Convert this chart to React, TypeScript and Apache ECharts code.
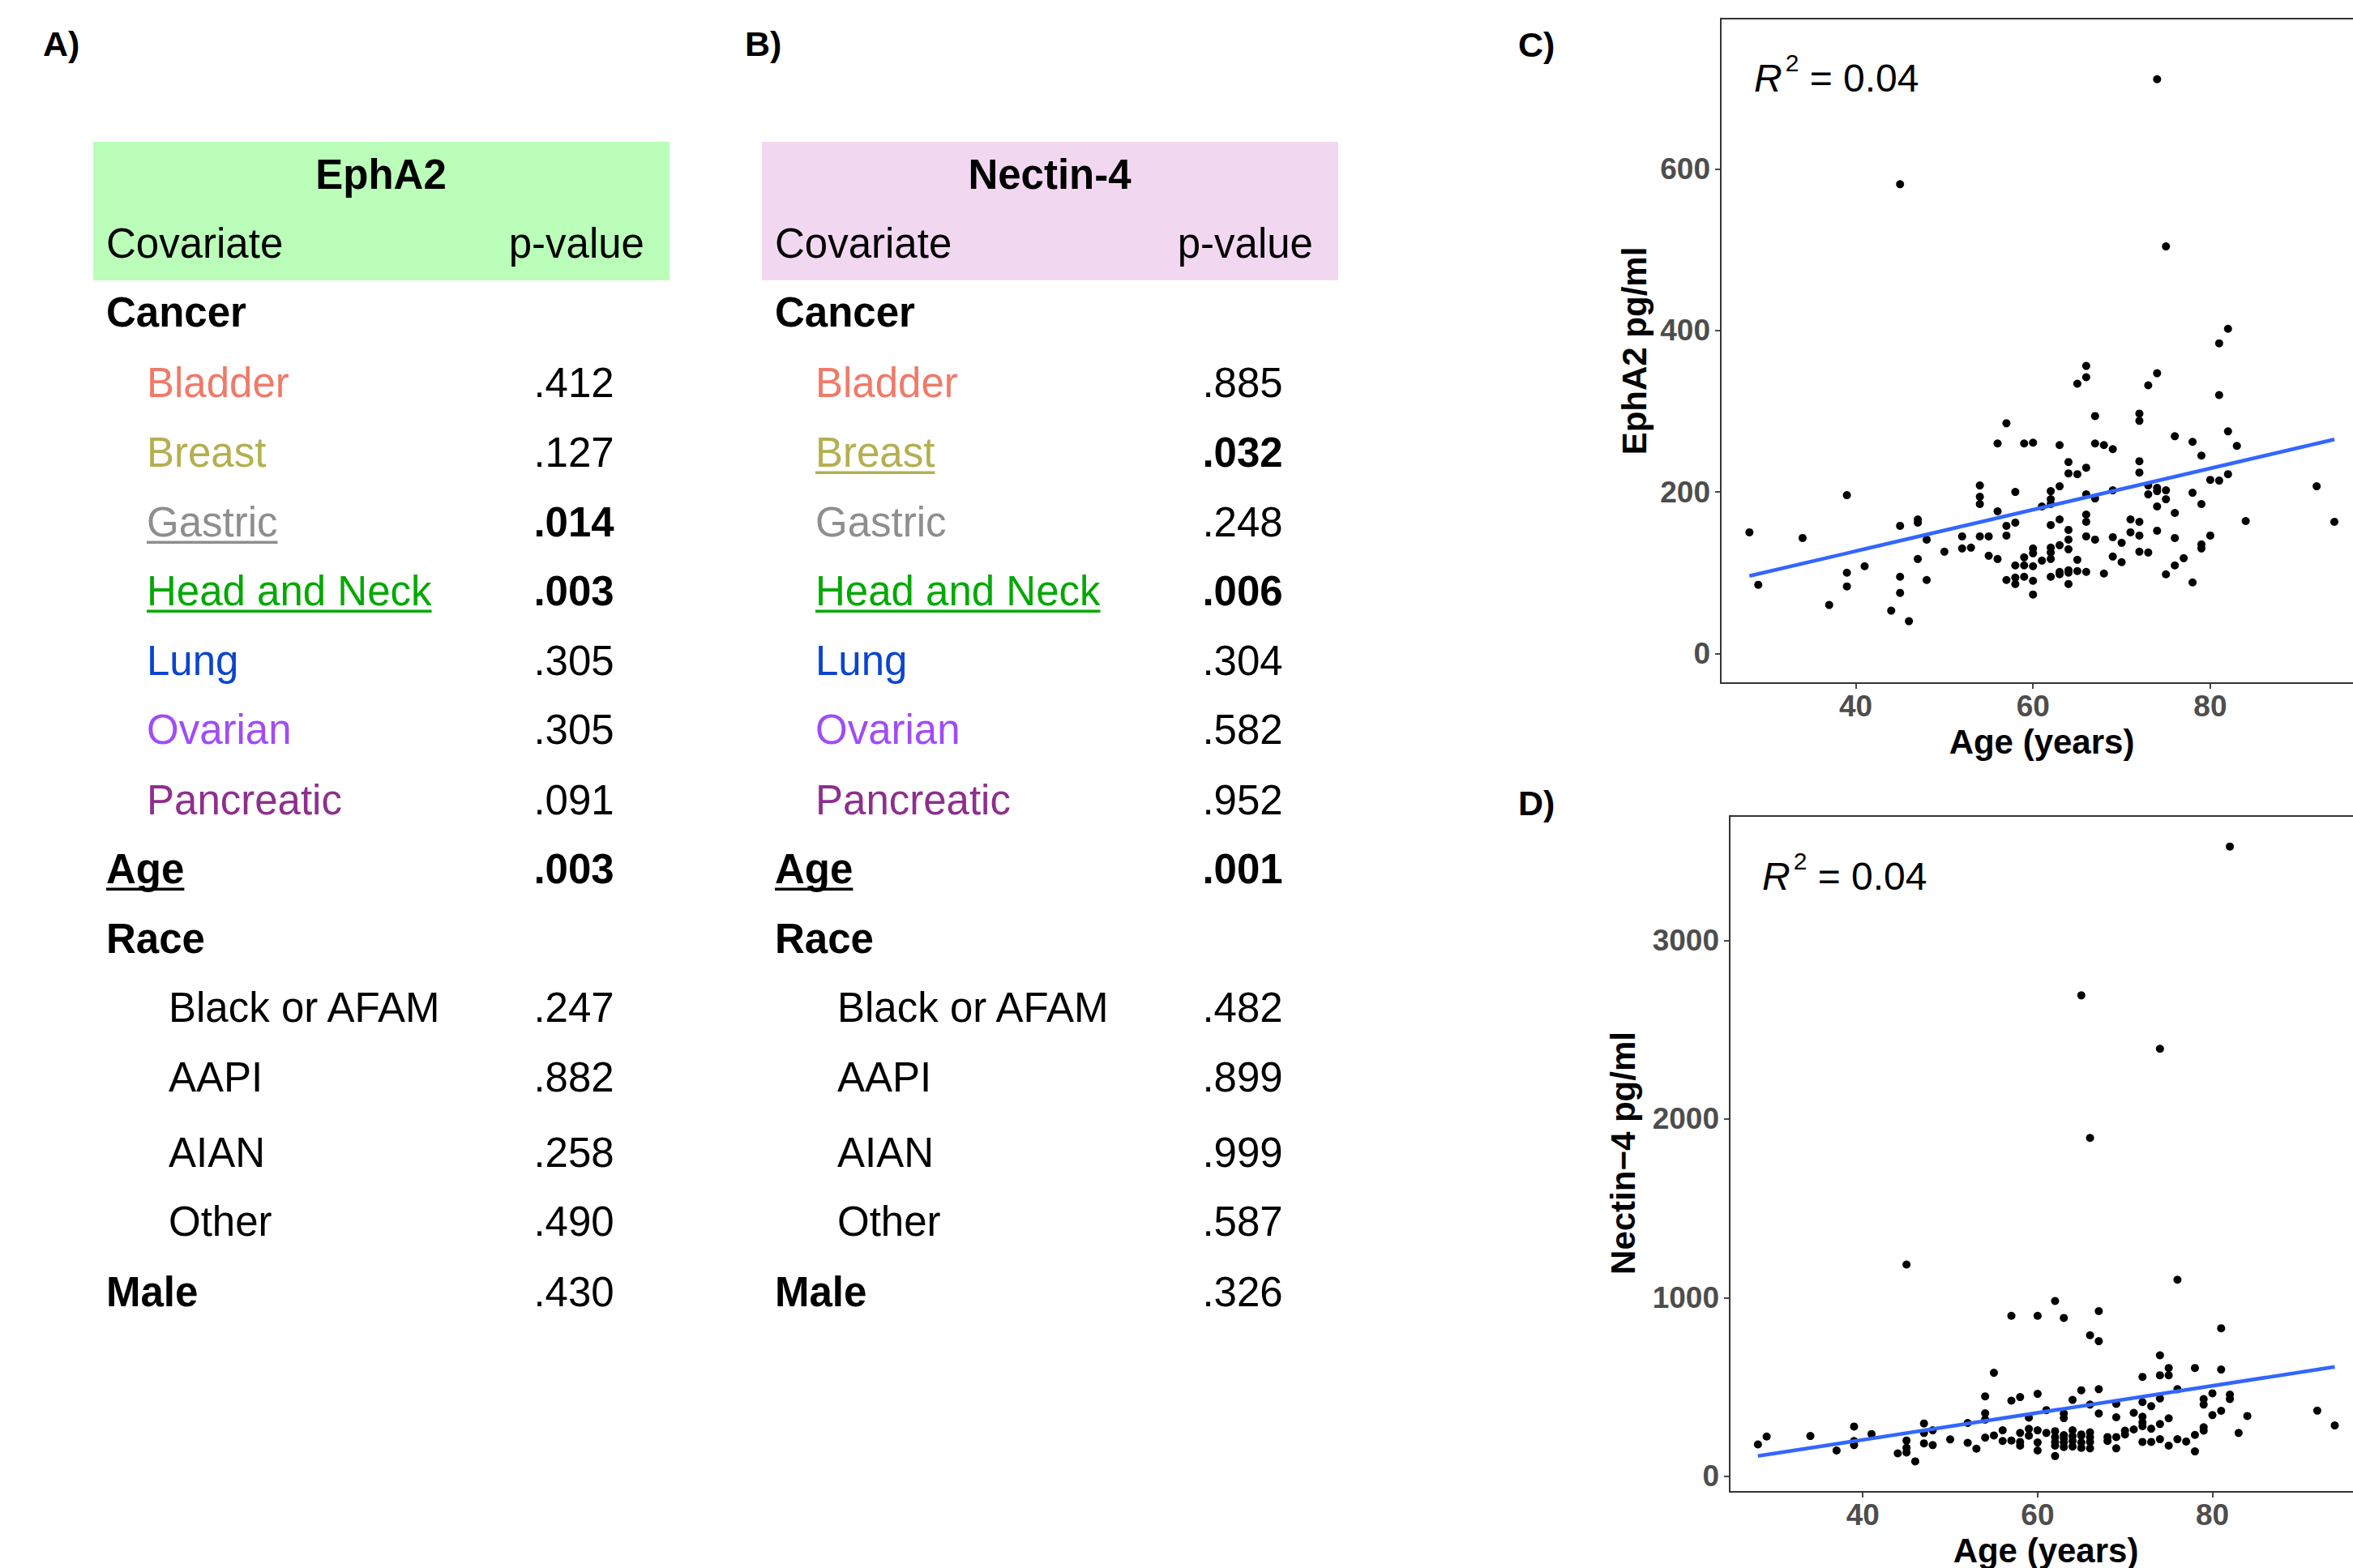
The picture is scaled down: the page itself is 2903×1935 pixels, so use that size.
import React, { useEffect, useRef } from "react";
import * as echarts from "echarts";

// ---------------- data ----------------
const COVARIATES = [
  "Cancer", "Bladder", "Breast", "Gastric", "Head and Neck", "Lung", "Ovarian", "Pancreatic",
  "Age", "Race", "Black or AFAM", "AAPI", "AIAN", "Other", "Male",
];
// 0 = group heading, 1 = cancer type, 2 = race category
const COVARIATE_LEVEL = [0, 1, 1, 1, 1, 1, 1, 1, 0, 0, 2, 2, 2, 2, 0];
const EPHA2_P = ["", ".412", ".127", ".014", ".003", ".305", ".305", ".091", ".003", "", ".247", ".882", ".258", ".490", ".430"];
const NECTIN4_P = ["", ".885", ".032", ".248", ".006", ".304", ".582", ".952", ".001", "", ".482", ".899", ".999", ".587", ".326"];
const SIGNIFICANCE = 0.05;

const C_AGE = [
  74, 45, 75, 82, 81, 66, 66, 65, 74, 73, 81,
  67, 72, 72, 57, 82, 56, 59, 60, 63, 67, 68, 69, 76, 78, 83, 79, 64, 72, 66, 64, 65, 72, 82, 80, 81,
  54, 63, 73, 74, 74, 92, 58, 62, 69, 75, 39, 66, 78, 73, 54, 67, 75, 62, 54, 62, 61, 74, 79, 56,
  76, 66, 63, 66, 71, 72, 84, 94, 47, 47, 45, 57, 58, 62, 64, 74, 71, 28, 34, 52, 54, 55, 57, 66,
  69, 72, 80, 48, 67, 76, 64, 70, 63, 79, 79, 52, 53, 62, 60, 64, 62, 60, 50, 72, 73, 55, 69, 56,
  47, 59, 62, 61, 65, 77, 70, 41, 58, 59, 60, 76, 39, 63, 63, 64, 64, 65, 66, 68, 75, 45, 48, 57,
  58, 58, 59, 60, 62, 64, 78, 29, 39, 45, 60, 37, 44, 46,
];
const C_EPHA2 = [
  711, 581, 504, 402, 384, 356, 342, 334, 347, 332, 320,
  294, 297, 288, 285, 275, 260, 260, 261, 258, 260, 258, 253, 269, 262, 257, 245, 237, 238, 230, 223, 222, 224, 222, 215, 214,
  208, 207, 208, 205, 201, 207, 200, 201, 202, 202, 196, 197, 199, 197, 194, 192, 191, 191, 185, 185, 182, 182, 185, 176,
  174, 172, 166, 163, 166, 163, 164, 163, 166, 162, 158, 158, 162, 159, 153, 152, 150, 150, 143, 145, 145, 145, 146, 145,
  144, 146, 146, 141, 141, 143, 141, 137, 134, 135, 130, 130, 131, 131, 130, 129, 125, 124, 126, 126, 125, 121, 120, 117,
  117, 119, 117, 115, 116, 118, 113, 108, 109, 109, 108, 109, 100, 101, 98, 103, 100, 102, 101, 99, 98, 95, 91, 91,
  94, 86, 95, 90, 95, 86, 88, 85, 83, 75, 73, 60, 53, 40,
];

const D_AGE = [
  82, 65, 74, 66, 45, 76, 62, 57, 60, 63, 67, 81, 66, 67, 74, 78, 75, 81, 55, 72, 74, 75, 76, 65,
  67, 54, 58, 60, 57, 64, 80, 82, 82, 79, 79, 74, 72, 66, 69, 73, 61, 63, 63, 67, 71, 54, 54, 72,
  80, 81, 84, 92, 59, 69, 75, 52, 47, 72, 74, 94, 72, 39, 73, 79, 79, 71, 70, 70, 56, 59, 59, 60,
  48, 47, 41, 29, 34, 55, 58, 61, 62, 63, 64, 65, 66, 50, 54, 56, 57, 62, 63, 64, 65, 66, 68, 69,
  74, 76, 78, 83, 39, 45, 47, 48, 52, 60, 62, 63, 64, 65, 66, 68, 72, 73, 77, 28, 39, 58, 62, 63,
  64, 65, 66, 75, 58, 37, 53, 60, 69, 78, 44, 45, 45, 62, 46,
];
const D_NECTIN4 = [
  3525, 2692, 2393, 1894, 1185, 1100, 981, 898, 898, 886, 924, 828, 789, 756, 677, 606, 606, 597, 579, 556, 565, 565, 487, 481,
  487, 447, 443, 461, 423, 427, 464, 457, 432, 432, 401, 435, 415, 401, 405, 392, 370, 351, 325, 351, 355, 352, 317, 333,
  342, 366, 337, 367, 328, 330, 324, 298, 295, 302, 292, 284, 280, 278, 266, 274, 255, 262, 255, 234, 257, 265, 227, 257,
  257, 242, 236, 222, 225, 228, 242, 242, 252, 230, 257, 234, 246, 206, 216, 197, 200, 219, 212, 224, 227, 219, 219, 219,
  207, 207, 231, 242, 197, 200, 184, 174, 187, 189, 192, 189, 197, 189, 192, 197, 192, 192, 194, 178, 174, 171, 171, 163,
  166, 159, 156, 171, 192, 144, 154, 144, 156, 139, 128, 133, 159, 113, 83,
];

// linear fits: [intercept, slope]
const C_FIT = [24.3, 2.561];
const D_FIT = [-98.7, 7.561];
const C_R2 = "0.04";
const D_R2 = "0.04";

const AGE_TICKS = [40, 60, 80];
const C_Y_TICKS = [0, 200, 400, 600];
const D_Y_TICKS = [0, 1000, 2000, 3000];

// ---------------- styles / layout ----------------
const FONT = "'Liberation Sans', Arial, Helvetica, sans-serif";
const CANCER_COLORS: Record<string, string> = {
  Bladder: "#EF7A69",
  Breast: "#B4AF50",
  Gastric: "#8E8E8E",
  "Head and Neck": "#05A805",
  Lung: "#0B45CF",
  Ovarian: "#A04CF6",
  Pancreatic: "#8E2F8E",
};
const ROW_BASELINES = [403, 490, 576, 662, 747, 833, 918, 1005, 1090, 1176, 1261, 1347, 1440, 1525, 1612];
const TABLE_FS = 51;

let measureCtx: CanvasRenderingContext2D | null = null;
function textWidth(t: string, font: string) {
  if (!measureCtx) measureCtx = document.createElement("canvas").getContext("2d");
  if (!measureCtx) return t.length * 25;
  measureCtx.font = font;
  return measureCtx.measureText(t).width;
}

function txt(text: string, x: number, baseline: number, size: number, weight: string, fill: string, align: string, extra: any = {}) {
  return {
    type: "text",
    silent: true,
    x,
    y: baseline - 0.35 * size,
    style: {
      text,
      x: 0,
      y: 0,
      font: `${extra.italic ? "italic " : ""}${weight} ${size}px ${FONT}`,
      fill,
      textAlign: align,
      textVerticalAlign: "middle",
      align,
      verticalAlign: "middle",
    },
  };
}

function tableGraphics(x0: number, header: string, pvals: string[], bg: string) {
  const els: any[] = [];
  els.push({ type: "rect", silent: true, shape: { x: x0, y: 175, width: 711, height: 171 }, style: { fill: bg } });
  els.push(txt(header, x0 + 355, 233, TABLE_FS, "bold", "#000", "center"));
  els.push(txt("Covariate", x0 + 16, 318, TABLE_FS, "normal", "#000", "left"));
  els.push(txt("p-value", x0 + 680, 318, TABLE_FS, "normal", "#000", "right"));
  COVARIATES.forEach((c, i) => {
    const base = ROW_BASELINES[i];
    const p = pvals[i];
    const sig = p !== "" && parseFloat(p) < SIGNIFICANCE;
    const level = COVARIATE_LEVEL[i];
    const lx = x0 + [16, 66, 93][level];
    const weight = level === 0 ? "bold" : "normal";
    const color = level === 1 ? CANCER_COLORS[c] : "#000";
    els.push(txt(c, lx, base, TABLE_FS, weight, color, "left"));
    if (sig) {
      const w = textWidth(c, `${weight} ${TABLE_FS}px ${FONT}`);
      els.push({ type: "rect", silent: true, shape: { x: lx, y: base + 5.5, width: w, height: 3.5 }, style: { fill: color } });
    }
    if (p !== "") {
      els.push(txt(p, x0 + 593, base, TABLE_FS, sig ? "bold" : "normal", "#000", "center"));
    }
  });
  return els;
}

function r2Graphics(x: number, baseline: number, value: string) {
  const fs = 48;
  const wR = textWidth("R", `italic normal ${fs}px ${FONT}`);
  const w2 = textWidth("2", `normal 30px ${FONT}`);
  return [
    txt("R", x, baseline, fs, "normal", "#000", "left", { italic: true }),
    txt("2", x + wR + 4, baseline - 25, 30, "normal", "#000", "left"),
    txt(" = " + value, x + wR + 4 + w2, baseline, fs, "normal", "#000", "left"),
  ];
}

function rotatedTitle(text: string, cx: number, cy: number) {
  return {
    type: "text",
    silent: true,
    x: cx,
    y: cy,
    rotation: Math.PI / 2,
    style: {
      text,
      x: 0,
      y: 0,
      font: `bold 42px ${FONT}`,
      fill: "#000",
      textAlign: "center",
      textVerticalAlign: "middle",
      align: "center",
      verticalAlign: "middle",
    },
  };
}

function fitLine(ages: number[], fit: number[]) {
  const lo = Math.min(...ages);
  const hi = Math.max(...ages);
  return [[lo, fit[0] + fit[1] * lo], [hi, fit[0] + fit[1] * hi]];
}

const AXIS_COLOR = "#333333";
const plainNumber = (v: number) => String(v);

function xAxisCfg(gridIndex: number) {
  return {
    type: "value",
    gridIndex,
    min: 24.77,
    max: 97.2,
    axisLine: { show: true, onZero: false, lineStyle: { color: AXIS_COLOR, width: 1.8 } },
    axisTick: { show: true, length: 7, customValues: AGE_TICKS, lineStyle: { color: AXIS_COLOR, width: 1.8 } },
    axisLabel: { customValues: AGE_TICKS, formatter: plainNumber, margin: 10, color: "#4D4D4D", fontSize: 37, fontWeight: "bold", fontFamily: FONT },
    splitLine: { show: false },
  };
}
function yAxisCfg(gridIndex: number, min: number, max: number, ticks: number[]) {
  return {
    type: "value",
    gridIndex,
    min,
    max,
    axisLine: { show: true, onZero: false, lineStyle: { color: AXIS_COLOR, width: 1.8 } },
    axisTick: { show: true, length: 7, customValues: ticks, lineStyle: { color: AXIS_COLOR, width: 1.8 } },
    axisLabel: { customValues: ticks, formatter: plainNumber, margin: 13, color: "#4D4D4D", fontSize: 37, fontWeight: "bold", fontFamily: FONT },
    splitLine: { show: false },
  };
}

export default function App() {
  const ref = useRef<HTMLDivElement>(null);
  useEffect(() => {
    document.body.style.margin = "0";
    document.body.style.overflow = "hidden";
    const chart = echarts.init(ref.current!, undefined, { renderer: "svg", width: 2903, height: 1935 });
    const graphic: any[] = [
      ...tableGraphics(115, "EphA2", EPHA2_P, "#BAFEB9"),
      ...tableGraphics(940, "Nectin-4", NECTIN4_P, "#F1D8F0"),
      txt("A)", 53, 69, 43, "bold", "#000", "left"),
      txt("B)", 919, 69, 43, "bold", "#000", "left"),
      txt("C)", 1873, 70, 43, "bold", "#000", "left"),
      txt("D)", 1873, 1006, 43, "bold", "#000", "left"),
      ...r2Graphics(2164, 113, C_R2),
      ...r2Graphics(2174, 1098, D_R2),
      rotatedTitle("EphA2 pg/ml", 2016, 433),
      rotatedTitle("Nectin\u22124 pg/ml", 2002, 1423),
      txt("Age (years)", 2519, 930, 42, "bold", "#000", "center"),
      txt("Age (years)", 2524, 1928, 42, "bold", "#000", "center"),
    ];
    chart.setOption({
      animation: false,
      backgroundColor: "#ffffff",
      grid: [
        { left: 2123, top: 23, width: 792, height: 820, show: true, borderColor: AXIS_COLOR, borderWidth: 1.8, containLabel: false, outerBoundsMode: "none" },
        { left: 2134, top: 1007, width: 781, height: 834, show: true, borderColor: AXIS_COLOR, borderWidth: 1.8, containLabel: false, outerBoundsMode: "none" },
      ],
      xAxis: [xAxisCfg(0), xAxisCfg(1)],
      yAxis: [yAxisCfg(0, -36.7, 786, C_Y_TICKS), yAxisCfg(1, -87.5, 3696, D_Y_TICKS)],
      series: [
        {
          type: "scatter", xAxisIndex: 0, yAxisIndex: 0, symbolSize: 10,
          itemStyle: { color: "#000", opacity: 1 },
          data: C_AGE.map((a, i) => [a, C_EPHA2[i]]),
        },
        {
          type: "line", xAxisIndex: 0, yAxisIndex: 0, showSymbol: false, symbol: "none", z: 5,
          lineStyle: { color: "#3366FF", width: 4.5 },
          data: fitLine(C_AGE, C_FIT),
        },
        {
          type: "scatter", xAxisIndex: 1, yAxisIndex: 1, symbolSize: 10,
          itemStyle: { color: "#000", opacity: 1 },
          data: D_AGE.map((a, i) => [a, D_NECTIN4[i]]),
        },
        {
          type: "line", xAxisIndex: 1, yAxisIndex: 1, showSymbol: false, symbol: "none", z: 5,
          lineStyle: { color: "#3366FF", width: 4.5 },
          data: fitLine(D_AGE, D_FIT),
        },
      ],
      graphic,
    });
    return () => chart.dispose();
  }, []);
  return <div ref={ref} style={{ position: "absolute", left: 0, top: 0, width: 2903, height: 1935 }} />;
}
